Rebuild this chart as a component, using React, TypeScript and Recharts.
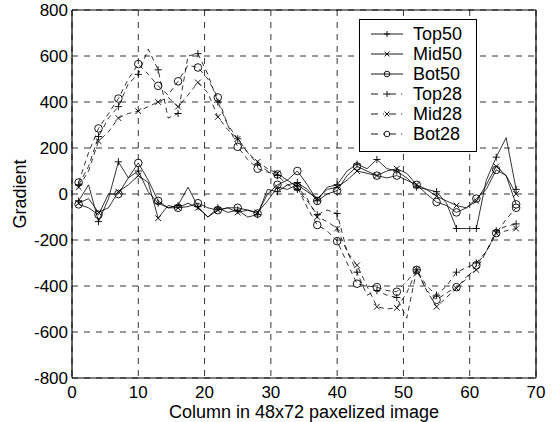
import React from "react";
import {
  LineChart,
  Line,
  XAxis,
  YAxis,
  CartesianGrid,
  ReferenceLine,
  Legend,
  Label,
} from "recharts";

const xs = [1, 2.5, 4, 5.5, 7, 8.5, 10, 11.5, 13, 14.5, 16, 17.5, 19, 20.5, 22, 23.5, 25, 26.5, 28, 29.5, 31, 32.5, 34, 35.5, 37, 38.5, 40, 41.5, 43, 44.5, 46, 47.5, 49, 50.5, 52, 53.5, 55, 56.5, 58, 59.5, 61, 62.5, 64, 65.5, 67];

const top50 = [-30, 40, -120, -20, 140, 70, 100, 10, -40, -60, -50, 30, -55, -100, -60, -80, -70, -100, -90, 20, 10, 40, 50, 20, -30, 30, 40, 100, 130, 110, 150, 110, 100, 70, 30, 20, 10, -40, -150, -150, -150, 60, 160, 245, 20];
const mid50 = [-40, -20, -80, -60, 10, 40, 80, 50, -105, -50, -60, -40, -60, -100, -70, -60, -80, -70, -80, -30, 30, 20, 40, 10, -20, 20, 30, 60, 100, 90, 80, 100, 110, 90, 40, 20, -10, -30, -50, -60, -30, 40, 120, 80, 0];
const bot50 = [-45, -60, -90, 0, 0, 70, 135, 60, -30, -60, -60, -55, -40, -60, -70, -60, -60, -70, -85, 0, 40, 60, 100, 40, -30, 0, 15, 80, 120, 100, 80, 70, 80, 60, 40, 0, -35, -50, -80, -60, -20, 20, 105, 80, -45];
const top28 = [40, 120, 250, 330, 380, 480, 520, 630, 540, 330, 350, 600, 610, 520, 400, 300, 240, 180, 130, 100, 80, 40, 20, -30, -90, -70, -85, -250, -340, -440, -420, -440, -450, -540, -330, -400, -440, -400, -340, -320, -300, -250, -160, -140, -130];
const mid28 = [30, 100, 230, 270, 330, 350, 360, 380, 400, 420, 380, 430, 485, 440, 335, 280, 240, 180, 140, 110, 90, 60, 30, -20, -100, -120, -150, -250, -310, -400, -490, -500, -495, -430, -330, -420, -490, -450, -410, -360, -330, -250, -170, -160, -150];
const bot28 = [50, 180, 285, 350, 415, 500, 565, 520, 470, 430, 490, 560, 550, 500, 420, 300, 205, 150, 110, 95, 85, 60, 30, -60, -135, -160, -205, -300, -390, -400, -405, -420, -425, -380, -330, -420, -460, -430, -405, -370, -310, -250, -170, -110, -60];

const xTicks = [0, 10, 20, 30, 40, 50, 60, 70];
const yTicks = [-800, -600, -400, -200, 0, 200, 400, 600, 800];

const data = xs.map((x, i) => ({
  x,
  top50: top50[i],
  mid50: mid50[i],
  bot50: bot50[i],
  top28: top28[i],
  mid28: mid28[i],
  bot28: bot28[i],
}));

type Kind = "plus" | "x" | "o";

const series: { key: string; name: string; kind: Kind; dashed: boolean }[] = [
  { key: "top50", name: "Top50", kind: "plus", dashed: false },
  { key: "mid50", name: "Mid50", kind: "x", dashed: false },
  { key: "bot50", name: "Bot50", kind: "o", dashed: false },
  { key: "top28", name: "Top28", kind: "plus", dashed: true },
  { key: "mid28", name: "Mid28", kind: "x", dashed: true },
  { key: "bot28", name: "Bot28", kind: "o", dashed: true },
];

const FONT = "'Liberation Sans', Arial, Helvetica, sans-serif";

function markerShape(kind: Kind, cx: number, cy: number, s: number, key?: string) {
  if (kind === "plus") {
    return (
      <path key={key} d={`M${cx - s},${cy}H${cx + s}M${cx},${cy - s}V${cy + s}`} stroke="#000" strokeWidth={0.9} fill="none" />
    );
  }
  if (kind === "x") {
    const t = s * 0.8;
    return (
      <path key={key} d={`M${cx - t},${cy - t}L${cx + t},${cy + t}M${cx - t},${cy + t}L${cx + t},${cy - t}`} stroke="#000" strokeWidth={0.9} fill="none" />
    );
  }
  return <circle key={key} cx={cx} cy={cy} r={s} stroke="#000" strokeWidth={0.9} fill="none" />;
}

function makeDot(kind: Kind, skey: string) {
  return (props: any) => {
    const { cx, cy, index } = props;
    const k = `${skey}-${index}`;
    if (index % 2 !== 0 || cx == null || cy == null) return <g key={k} />;
    return markerShape(kind, cx, cy, kind === "o" ? 3.8 : 3.6, k);
  };
}

function LegendBox() {
  return (
    <div
      style={{
        width: 118,
        height: 133,
        boxSizing: "border-box",
        border: "1px solid #000",
        background: "#fff",
        paddingTop: 4,
        fontFamily: FONT,
        fontSize: 18,
        color: "#000",
      }}
    >
      {series.map((s) => (
        <div key={s.key} style={{ display: "flex", alignItems: "center", height: 20, lineHeight: "20px" }}>
          <svg width={53} height={20} style={{ display: "block" }}>
            <line
              x1={11}
              x2={43}
              y1={10}
              y2={10}
              stroke="#000"
              strokeWidth={0.9}
              strokeDasharray={s.dashed ? "7 5 1 5" : undefined}
            />
            {markerShape(s.kind, 27, 10, s.kind === "o" ? 2.8 : 3)}
          </svg>
          <span>{s.name}</span>
        </div>
      ))}
    </div>
  );
}

export default function App() {
  return (
    <div style={{ position: "absolute", left: 0, top: 0, width: 552, height: 422, background: "#fff" }}>
      <LineChart
        width={552}
        height={422}
        data={data}
        margin={{ top: 10, right: 16, bottom: 0, left: 0 }}
        style={{ fontFamily: FONT }}
      >
        <CartesianGrid stroke="#000" strokeWidth={0.8} strokeDasharray="6 6" />
        <XAxis
          dataKey="x"
          type="number"
          domain={[0, 70]}
          ticks={xTicks}
          height={44}
          tickLine={false}
          axisLine={{ stroke: "#000", strokeWidth: 1.2 }}
          tick={{ fill: "#000", fontSize: 17, fontFamily: FONT }}
          interval={0}
        >
          <Label
            value="Column in 48x72 paxelized image"
            position="insideBottom"
            offset={4}
            style={{ fill: "#000", fontSize: 18, fontFamily: FONT }}
          />
        </XAxis>
        <YAxis
          type="number"
          domain={[-800, 800]}
          ticks={yTicks}
          width={72}
          tickLine={false}
          tickSize={2}
          tickMargin={2}
          axisLine={{ stroke: "#000", strokeWidth: 1.2 }}
          tick={{ fill: "#000", fontSize: 17, fontFamily: FONT }}
          interval={0}
        >
          <Label
            value="Gradient"
            angle={-90}
            position="insideLeft"
            offset={20}
            style={{ fill: "#000", fontSize: 18, fontFamily: FONT, textAnchor: "middle" }}
          />
        </YAxis>
        <ReferenceLine y={800} stroke="#000" strokeWidth={1.2} />
        <ReferenceLine x={70} stroke="#000" strokeWidth={1.2} />
        {series.map((s) => (
          <Line
            key={s.key}
            dataKey={s.key}
            name={s.name}
            type="linear"
            stroke="#000"
            strokeWidth={0.8}
            strokeDasharray={s.dashed ? "5 4" : undefined}
            dot={makeDot(s.kind, s.key)}
            activeDot={false}
            isAnimationActive={false}
          />
        ))}
        <Legend
          layout="vertical"
          align="center"
          verticalAlign="middle"
          content={() => <LegendBox />}
          wrapperStyle={{ position: "absolute", left: 359, top: 19, width: 118, height: 133 }}
        />
      </LineChart>
    </div>
  );
}
